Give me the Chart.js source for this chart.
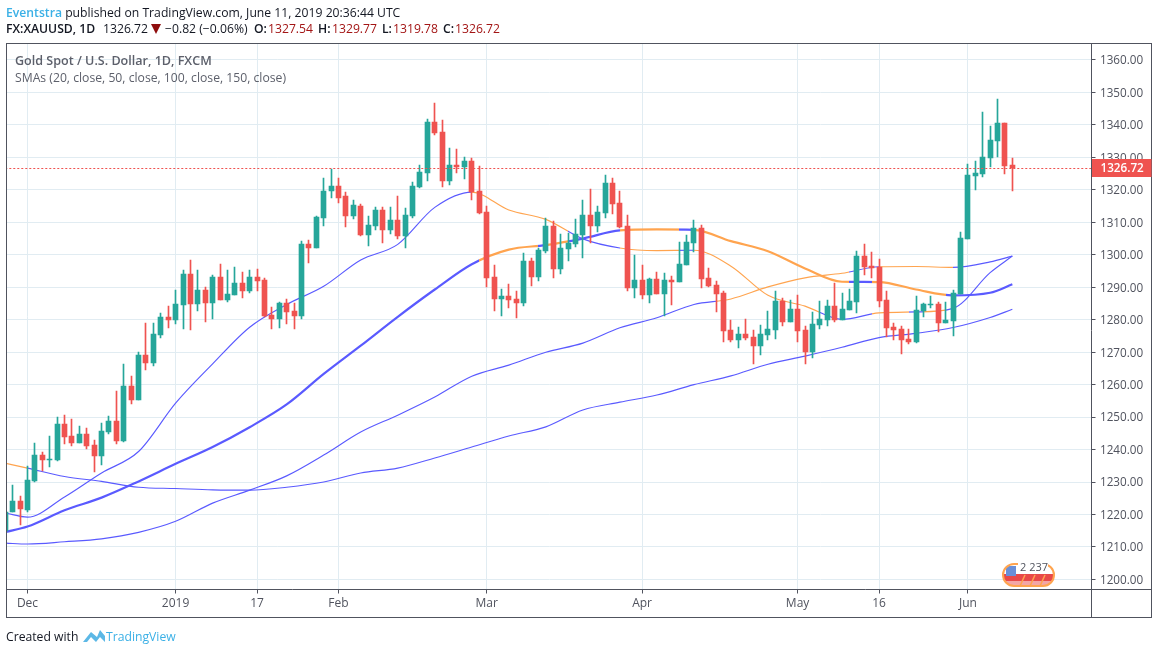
<!DOCTYPE html>
<html>
<head>
<meta charset="utf-8">
<title>XAUUSD</title>
<script src="https://cdn.jsdelivr.net/npm/chart.js@4"></script>
<style>
body { margin: 0; background: #fff; font-family: "Open Sans", sans-serif; }
#wrap { position: relative; width: 1158px; height: 654px; overflow: hidden; }
canvas { position: absolute; left: 0; top: 0; }
.txt { position: absolute; white-space: nowrap; font-size: 12.2px; color: #131722; line-height: 18px; }
.txt b { font-weight: 600; }
.red { color: #a31515; }
.legend { color: #5d606b; }
</style>
</head>
<body>
<div id="wrap">
  <canvas id="chart" width="1158" height="654"></canvas>
  <div class="txt" style="left:6px;top:4px"><span style="color:#3bb0e6;font-weight:600">Eventstra</span> published on TradingView.com, June 11, 2019 20:36:44 UTC</div>
  <div class="txt" style="left:6px;top:20px"><b>FX:XAUUSD, 1D</b></div>
  <div class="txt" style="left:103px;top:20px">1326.72</div>
  <svg style="position:absolute;left:151px;top:24px" width="11" height="11"><path d="M0 0 L10 0 L5 10 Z" fill="#8f0d0d"/></svg>
  <div class="txt" style="left:165px;top:20px">−0.82 (−0.06%)</div>
  <div class="txt" style="left:254px;top:20px"><b>O:</b></div>
  <div class="txt red" style="left:268px;top:20px">1327.54</div>
  <div class="txt" style="left:318px;top:20px"><b>H:</b></div>
  <div class="txt red" style="left:332px;top:20px">1329.77</div>
  <div class="txt" style="left:382px;top:20px"><b>L:</b></div>
  <div class="txt red" style="left:393px;top:20px">1319.78</div>
  <div class="txt" style="left:443px;top:20px"><b>C:</b></div>
  <div class="txt red" style="left:455px;top:20px">1326.72</div>
  <div class="txt legend" style="left:15px;top:52px;font-size:12.55px"><b>Gold Spot / U.S. Dollar, 1D, FXCM</b></div>
  <div class="txt legend" style="left:15px;top:69px">SMAs (20, close, 50, close, 100, close, 150, close)</div>
  <div class="txt" style="left:6px;top:628px">Created with</div>
  <svg style="position:absolute;left:82px;top:628px" width="24" height="16" viewBox="0 0 24 16">
    <path d="M1 14 L9 4 L15 9 L18 2 L23 8 L23 14 L18 9 L14 14 L9 9 L5 14 Z" fill="#5cb8e6"/>
  </svg>
  <div class="txt" style="left:106px;top:628px;color:#3bb0e6">TradingView</div>
</div>
<script>
// first candle sits one bar past the left edge
const firstDay = -3;

const open = [1215,1220.7,1224.3,1221.5,1230.4,1238.4,1237,1236.9,1247.9,1244.3,
  1242.1,1244.9,1241.5,1238.1,1245.5,1248.9,1242.7,1259.6,1255.3,1269.2,
  1266.7,1275.4,1280.7,1279.8,1284.4,1294.2,1284.7,1289,1285,1293.3,
  1286.2,1287.5,1291.2,1288.7,1293.3,1292.1,1281.3,1280.1,1285,1282.8,
  1281,1303.2,1302.2,1311.2,1319.5,1321.3,1318,1311.8,1315,1306.1,
  1308.8,1313.8,1307.6,1310.7,1305.7,1311.9,1320.8,1325.2,1340.9,1337.8,
  1322.7,1327.6,1327,1328.9,1319.6,1313.1,1293.1,1286.3,1287.3,1286.3,
  1285.1,1298,1293.1,1301.1,1308.8,1295.7,1301.7,1303.3,1306.2,1312.4,
  1309,1313,1322,1315.8,1309,1289.9,1292.1,1287.5,1292.4,1287.8,
  1292.1,1291.5,1297,1303.5,1308.1,1292.7,1290.8,1288.1,1276.7,1273.6,
  1275.7,1274.8,1272,1275.4,1276.7,1285.9,1279.4,1283.4,1276.7,1270,
  1278.3,1279.9,1284.2,1279.9,1283,1285.4,1299.6,1296.5,1296.2,1286,
  1277.7,1277.1,1274,1273.1,1282.7,1284.5,1284.9,1279,1279.6,1287.9,
  1304.8,1324.2,1324.8,1329.8,1335,1340.6,1327.54];
const high = [1221,1229.2,1225.8,1235,1242.1,1239.3,1244.3,1250.1,1250.7,1249.5,
  1247.3,1246.7,1243,1248.3,1250.4,1258.1,1266.4,1262.7,1270.1,1279.1,
  1279.1,1282.2,1284.1,1289,1295.2,1298.5,1295.2,1290.2,1293.9,1297.3,
  1295.2,1296.1,1294.8,1295.2,1295.5,1292.7,1283.8,1285.6,1286.5,1285,
  1304.1,1304.4,1312.1,1323.5,1326.3,1323.8,1319.2,1317,1315.6,1311.9,
  1314.7,1314.7,1314.7,1318.1,1314.4,1322.4,1327.6,1341.8,1346.7,1341.5,
  1332.9,1332.5,1330.1,1329.8,1327.3,1315,1296.8,1289.4,1291,1288.8,
  1300.5,1299,1302,1311.3,1310.4,1306.4,1306.7,1311,1317,1320.4,
  1314.9,1324.7,1323.5,1319.5,1312.4,1299.8,1297,1292.7,1294.8,1294.5,
  1293.6,1303.8,1306.2,1310.6,1309.3,1295.8,1291.8,1288.7,1279.8,1277.9,
  1280.1,1276.7,1278.5,1282.8,1288.7,1286.8,1286.2,1287.5,1278.2,1282.3,
  1285.7,1286,1291.3,1288.2,1289.4,1301.1,1303.3,1300.8,1298.7,1288.8,
  1279,1278,1277.1,1287.3,1285.2,1287.3,1285.4,1285.4,1289.1,1307,
  1327.9,1328.9,1343.9,1339.6,1347.9,1340.6,1329.77];
const low = [1215,1220.7,1216.9,1220.9,1229.9,1233.5,1234.7,1236.6,1241.8,1241.2,
  1242.1,1240.3,1233.2,1235.3,1244.9,1241.8,1242.4,1254.1,1255.3,1264.6,
  1265.8,1274.5,1277.6,1278.8,1277,1276.7,1282.8,1279.4,1280.1,1286.2,
  1285.6,1287.5,1286.8,1288.1,1288.7,1280.7,1277,1277.6,1278.8,1277,
  1280.1,1297.6,1302.2,1309,1317.6,1316.1,1308.7,1310.9,1305.7,1302.7,
  1307.6,1303.6,1306.4,1304.8,1302,1311.3,1320.5,1322.7,1336.9,1320.8,
  1321.5,1325.2,1323.3,1316.8,1312.5,1290,1282.6,1281.1,1283.6,1280.5,
  1284.2,1290.4,1291.9,1300.5,1292.8,1294,1298,1302.4,1298.9,1303.5,
  1306.9,1311.2,1312.7,1308.1,1288.7,1286.8,1286.5,1285.3,1287.8,1281,
  1284.4,1291.5,1296.7,1301,1289.9,1290.2,1282.5,1273,1273,1271.4,
  1273.9,1266.5,1269,1273.6,1274.2,1278.2,1279.4,1273,1266.5,1268.2,
  1277.1,1278,1279.3,1279.9,1283,1282,1293.7,1292.8,1283.9,1274.6,
  1273.7,1269.4,1272.5,1272.8,1280.8,1283.6,1276.2,1279,1275,1287.9,
  1304.8,1319.9,1323.9,1327,1330.1,1324.8,1319.78];
const close = [1220.8,1224.3,1221.6,1230.7,1238.4,1236.9,1237.2,1247.9,1243.9,1242.1,
  1244.9,1241.2,1238.1,1245.8,1248.9,1242.7,1259.6,1255.3,1269.2,1266.7,
  1275.7,1280.7,1279.8,1284.7,1294.2,1284.7,1289,1285,1293.3,1286.2,
  1287.8,1291.2,1288.7,1293.3,1291.8,1281,1280.1,1285,1282.5,1281,
  1303.2,1302.2,1311.5,1319.8,1321.3,1317.6,1311.8,1315.2,1306.1,1309.1,
  1313.8,1307.6,1310.7,1305.7,1312.2,1321.1,1325.5,1340.9,1337.5,1322.7,
  1327.6,1327,1328.9,1319.3,1312.8,1292.8,1286.3,1287.3,1286,1285.1,
  1298,1293.1,1301.4,1308.8,1295.7,1302,1303.6,1306.4,1312.4,1309,
  1313.3,1322,1315.5,1308.7,1289.9,1292.1,1287.5,1292.4,1287.8,1292.1,
  1291.5,1297.3,1303.8,1308.1,1292.4,1290.5,1287.8,1276.4,1273.6,1275.7,
  1274.5,1272,1275.7,1277,1285.9,1279.4,1283.4,1276.4,1270.2,1278.6,
  1280.2,1284.2,1279.9,1283.3,1285.7,1299.6,1296.2,1295.9,1285.7,1277.4,
  1276.8,1273.7,1273.1,1283,1284.9,1284.9,1279,1279.9,1288.2,1305.1,
  1324.5,1325.2,1330.1,1335.3,1340.6,1327.3,1326.72];

// SMAs read every 5 bars
const smaDays = [-3,0,5,10,15,20,25,30,35,40,45,50,55,60,65,70,75,80,85,90,95,100,105,110,115,120,125,130,133];
const sma20 = [1220.5,1219.2,1225.4,1232.8,1239.4,1254.3,1266.4,1277.7,1284.7,1290.3,1298.4,1303.2,1314.6,1319.3,1313.8,1310.9,1304.9,1302.1,1301.3,1301.4,1296.5,1287.5,1284.2,1280.1,1282.1,1282.4,1283.5,1294.5,1299.6];
const sma50 = [1214.6,1216.3,1221.3,1225.2,1230.2,1235.6,1240.8,1246.9,1253.9,1263.3,1272,1280.9,1289.3,1297.1,1301.6,1303,1305,1307.5,1307.8,1307.7,1304.2,1301.1,1295.8,1291.7,1291.6,1289.3,1287.5,1288.3,1290.9];
const sma100 = [1211.2,1210.9,1211.6,1212.5,1214.5,1217.9,1223.5,1227.5,1231.9,1238.3,1245.4,1250.6,1256.2,1262.6,1266,1270,1272.8,1277.5,1280.6,1284.7,1286.4,1290.1,1292.9,1294.3,1296.3,1296.4,1296.1,1297.8,1299.6];
const sma150 = [1235.8,1234.3,1231.7,1230.2,1228.4,1228,1227.6,1227.5,1228.4,1230,1232.8,1234.3,1237.4,1240.8,1244.2,1247,1252.2,1254.6,1256.8,1260,1262.7,1266.3,1268.8,1271.5,1274.5,1275.8,1277.6,1280.7,1283.2];

// stretches where the line is drawn orange (price under the average)
const sma20Under = [[60,73],[80,88],[90,107],[114,119],[121,124]];
const sma50Under = [[61,69],[70,73],[80,88],[90,111],[114,124]];
const sma100Under = [[93,111],[115,125]];
const sma150Under = [[-3,0]];

const tickDays = [0,20,31,42,62,83,104,115,127];
const tickNames = ['Dec','2019','17','Feb','Mar','Apr','May','16','Jun'];
const priceTicks = [1200,1210,1220,1230,1240,1250,1260,1270,1280,1290,1300,1310,1320,1330,1340,1350,1360];
const lastPrice = 1326.72;

const UP = '#26a69a', DOWN = '#ef5350', BLUE = '#5a5aff', ORANGE = '#ffa44f';
const TEXT = '#50535e', GRID = '#e1ecf2';

const days = open.map((v, i) => i + firstDay);
const candleColors = open.map((v, i) => close[i] >= v ? UP : DOWN);

// horizontal gradient with hard stops, so the colour flips at the exact bar
function smaColor(under) {
    return function(ctx) {
        const chart = ctx.chart;
        if (!chart.chartArea) return BLUE;
        const x = chart.scales.x;
        const left = chart.chartArea.left, right = chart.chartArea.right;
        const g = chart.ctx.createLinearGradient(left, 0, right, 0);
        const pos = v => Math.min(1, Math.max(0, (x.getPixelForValue(v) - left) / (right - left)));
        g.addColorStop(0, BLUE);
        under.forEach(r => {
            g.addColorStop(pos(r[0]), BLUE);
            g.addColorStop(pos(r[0]), ORANGE);
            g.addColorStop(pos(r[1]), ORANGE);
            g.addColorStop(pos(r[1]), BLUE);
        });
        g.addColorStop(1, BLUE);
        return g;
    };
}

function smaDataset(values, under, width) {
    return {
        type: 'line',
        data: smaDays.map((d, i) => ({ x: d, y: values[i] })),
        borderColor: smaColor(under),
        borderWidth: width,
        pointRadius: 0,
        cubicInterpolationMode: 'monotone',
        order: 3
    };
}

// snap the bars and the last price line on whole pixels like the original
const snapBars = {
    id: 'snapBars',
    beforeDatasetsDraw(chart) {
        chart.data.datasets.forEach((ds, n) => {
            const els = chart.getDatasetMeta(n).data;
            if (ds.isLastPrice) {
                els.forEach(el => { el.y = Math.floor(el.y) + 0.5; });
            }
            if (ds.type === 'line') return;
            els.forEach(el => {
                el.x = Math.floor(el.x) + 0.5;
                el.y = Math.round(el.y);
                el.base = Math.round(el.base);
                if (el.base === el.y) el.base = el.y + 1;
            });
        });
    }
};

const frame = {
    id: 'frame',
    afterDraw(chart) {
        const c = chart.ctx, a = chart.chartArea;
        c.save();
        c.strokeStyle = TEXT;
        c.lineWidth = 1;
        c.strokeRect(a.left, a.top, 1151.5 - a.left, 617.5 - a.top);
        c.beginPath();
        c.moveTo(a.left, a.bottom); c.lineTo(1151.5, a.bottom);
        c.moveTo(a.right, a.top); c.lineTo(a.right, 617.5);
        c.stroke();

        // last price tag
        const y = Math.floor(chart.scales.y.getPixelForValue(lastPrice));
        c.fillStyle = DOWN;
        c.fillRect(a.right + 0.5, y - 9, 59.5, 18);
        c.fillStyle = '#fff';
        c.font = '600 11.7px "Open Sans"';
        c.textBaseline = 'middle';
        c.fillText(lastPrice.toFixed(2), a.right + 9, y + 0.5);

        // events badge at the bottom of the plot
        const pill = new Path2D();
        pill.roundRect(1003, 564, 51, 22, 11);
        c.fillStyle = '#fff';
        c.fill(pill);
        c.save();
        c.clip(pill);
        c.fillStyle = '#e8494a';
        c.fillRect(1003, 574, 51, 7);
        c.fillStyle = '#f3a6a6';
        c.fillRect(1003, 581, 51, 5);
        c.fillStyle = '#6a8fd8';
        c.fillRect(1006, 566, 10, 10);
        c.strokeStyle = ORANGE;
        c.lineWidth = 1.5;
        [1020, 1030, 1040].forEach(x => {
            c.beginPath();
            c.moveTo(x + 5, 575); c.lineTo(x, 586);
            c.stroke();
        });
        c.restore();
        c.strokeStyle = ORANGE;
        c.lineWidth = 2;
        c.stroke(pill);
        c.fillStyle = '#fff';
        c.fillRect(1018, 562, 30, 11);
        c.fillStyle = TEXT;
        c.font = '11px "Open Sans"';
        c.fillText('2 237', 1020, 568);
        c.restore();
    }
};

new Chart(document.getElementById('chart'), {
    type: 'bar',
    data: {
        datasets: [
            {
                data: days.map((d, i) => ({ x: d, y: [open[i], close[i]] })),
                backgroundColor: candleColors,
                barThickness: 5,
                grouped: false,
                order: 1
            },
            {
                data: days.map((d, i) => ({ x: d, y: [low[i], high[i]] })),
                backgroundColor: candleColors,
                barThickness: 1,
                grouped: false,
                order: 2
            },
            smaDataset(sma20, sma20Under, 1.15),
            smaDataset(sma50, sma50Under, 2.2),
            smaDataset(sma100, sma100Under, 1.15),
            smaDataset(sma150, sma150Under, 1.15),
            {
                type: 'line',
                isLastPrice: true,
                data: [{ x: -3, y: lastPrice }, { x: 144, y: lastPrice }],
                borderColor: DOWN,
                borderWidth: 1,
                borderDash: [2, 2],
                pointRadius: 0,
                order: 0
            }
        ]
    },
    options: {
        responsive: false,
        animation: false,
        devicePixelRatio: 1,
        layout: { padding: { left: 6.5, top: 43.5, right: 6.5, bottom: 36.5 } },
        plugins: { legend: { display: false }, tooltip: { enabled: false } },
        scales: {
            x: {
                type: 'linear',
                offset: false,
                min: -2.836,
                max: 143.69,
                afterBuildTicks: s => { s.ticks = tickDays.map(v => ({ value: v })); },
                afterFit: s => { s.height = 28; },
                grid: { offset: false, color: GRID, tickColor: TEXT, tickLength: 4 },
                border: { display: false },
                ticks: {
                    autoSkip: false,
                    maxRotation: 0,
                    padding: 3,
                    color: TEXT,
                    font: { family: 'Open Sans', size: 12 },
                    callback: v => tickNames[tickDays.indexOf(v)]
                }
            },
            y: {
                position: 'right',
                min: 1196.9,
                max: 1365.08,
                afterBuildTicks: s => { s.ticks = priceTicks.map(v => ({ value: v })); },
                afterFit: s => { s.width = 60; },
                grid: { color: GRID, tickColor: TEXT, tickLength: 4 },
                border: { display: false },
                ticks: {
                    autoSkip: false,
                    padding: 4.5,
                    labelOffset: 1,
                    color: TEXT,
                    font: { family: 'Open Sans', size: 11.7 },
                    callback: v => v.toFixed(2)
                }
            }
        }
    },
    plugins: [snapBars, frame]
});
</script>
</body>
</html>
